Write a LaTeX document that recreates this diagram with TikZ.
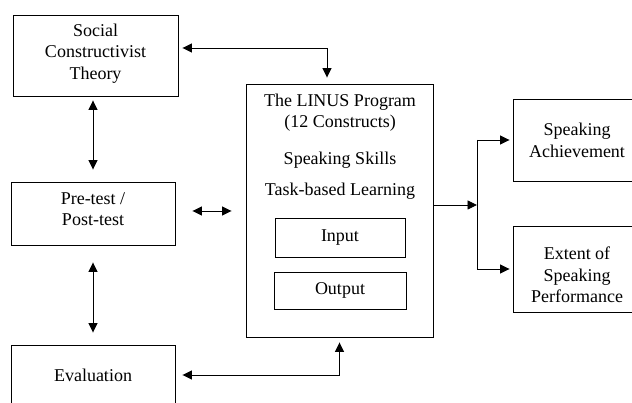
\documentclass[tikz,border=0pt]{standalone}
\usepackage{fontspec}
\setmainfont{Liberation Serif}
\usetikzlibrary{arrows.meta,calc}
\begin{document}
\begin{tikzpicture}[x=1pt,y=-1pt,
  every node/.style={font=\fontsize{18}{21.5}\selectfont, inner sep=0pt},
  box/.style={draw, line width=0.9pt, align=center},
  txt/.style={align=center},
  con/.style={line width=0.9pt, -{Triangle[length=9.5pt,width=9pt]}},
  dcon/.style={line width=0.9pt, {Triangle[length=9.5pt,width=9pt]}-{Triangle[length=9.5pt,width=9pt]}}
]
\useasboundingbox (0,0) rectangle (632,403);
\clip (0,0) rectangle (632,403);
% boxes
\node[box, minimum width=165pt, minimum height=81pt] (social) at (95.5,55.5) {};
\node[txt] at (95.5,53.5) {Social\\Constructivist\\Theory};
\node[box, minimum width=164pt, minimum height=63pt] (pre) at (93,213.5) {};
\node[txt] at (93,209) {Pre-test /\\Post-test};
\node[box, minimum width=164pt, minimum height=60pt] (eval) at (93,375) {Evaluation};
\node[box, minimum width=187pt, minimum height=253pt] (linus) at (339.5,210.5) {};
\node[txt] (l1) at (340,102) {The LINUS Program};
\node[txt] (l2) at (340,123) {(12 Constructs)};
\node[txt] (l3) at (340,160) {Speaking Skills};
\node[txt] (l4) at (340,191) {Task-based Learning};
\node[box, minimum width=130pt, minimum height=39pt] (input) at (340,237.5) {Input};
\node[box, minimum width=132pt, minimum height=37pt] (output) at (340,290.5) {Output};
\node[box, minimum width=128pt, minimum height=82pt] (ach) at (577,140) {};
\node[txt] at (577,140.5) {Speaking\\Achievement};
\node[box, minimum width=128pt, minimum height=86pt] (ext) at (577,269) {};
\node[txt] at (577,275) {Extent of\\Speaking\\Performance};
% connectors
\coordinate (sl) at (327,48);
\draw[dcon, shorten <=4pt, shorten >=6pt] (social.east |- sl) -| (linus.north -| sl);
\coordinate (sv) at (93,0);
\draw[dcon, shorten <=4pt, shorten >=12pt] (social.south -| sv) -- (pre.north -| sv);
\draw[dcon, shorten <=17pt, shorten >=12pt] (pre.south -| sv) -- (eval.north -| sv);
\coordinate (pl) at (0,211);
\draw[dcon, shorten <=17pt, shorten >=14pt] (pre.east |- pl) -- (linus.west |- pl);
\draw[dcon, shorten <=5pt, shorten >=7pt] (linus.south) |- (eval.east);
\coordinate (br) at (477,205);
\draw[con] (linus.east |- br) -- (br);
\draw[line width=0.9pt] (br |- ach) -- (br |- ext);
\draw[con, shorten >=3pt] (br |- ach) -- (ach.west);
\draw[con, shorten >=3pt] (br |- ext) -- (ext.west);
\end{tikzpicture}
\end{document}
